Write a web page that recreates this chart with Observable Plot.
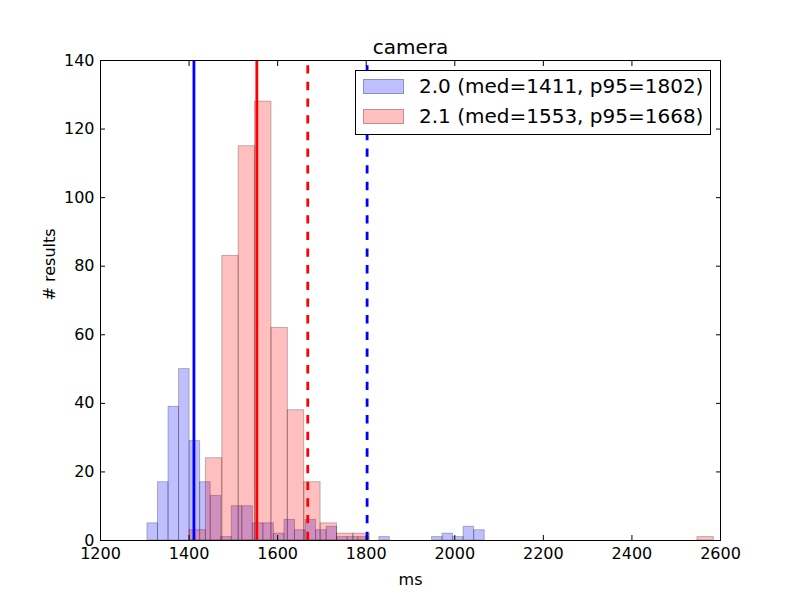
<!DOCTYPE html>
<html><head><meta charset="utf-8">
<script src="https://cdn.jsdelivr.net/npm/d3@7"></script>
<script src="https://cdn.jsdelivr.net/npm/@observablehq/plot@0.6"></script>
<style>
body{margin:0;background:#fff;font-family:"DejaVu Sans",sans-serif}
#wrap{position:relative;width:800px;height:600px}
#legend{position:absolute;left:355px;top:70px;width:356px;height:65px;box-sizing:border-box;border:1px solid #000;background:#fff;font-size:20px;font-family:"DejaVu Sans",sans-serif;color:#000}
.row{position:absolute;left:0;height:30px;display:flex;align-items:center;white-space:nowrap}
.sw{width:41px;height:15px;margin-left:7px;box-sizing:border-box;border:1px solid rgba(0,0,0,0.25)}
.lab{margin-left:15px}
</style></head><body><div id="wrap"></div>
<script>
const title = "camera";
const xLabel = "ms";
const yLabel = "# results";
const xTicks = [1200, 1400, 1600, 1800, 2000, 2200, 2400, 2600];
const yTicks = [0, 20, 40, 60, 80, 100, 120, 140];

const versions = ["2.0", "2.1"];
const colors = ["blue", "red"];
const medians = [1411, 1553];
const p95s = [1802, 1668];

// histogram bins: first edge, bin width, counts
const blueStart = 1306, blueBinWidth = 23.8;
const blueCounts = [5,17,39,50,29,17,13,1,10,10,5,5,2,6,3,6,3,4,1,1,1,0,1,0,0,0,0,1,2,1,4,3];
const redStart = 1401, redBinWidth = 37.0;
const redCounts = [3,24,83,115,128,62,38,17,5,2,2,0,0,0,0,0,0,0,0,0,0,0,0,0,0,0,0,0,0,0,0,1];

function bins(start, w, counts) {
  return counts.map((c, i) => ({x1: start + i * w, x2: start + (i + 1) * w, count: c})).filter(d => d.count > 0);
}
const series = [bins(blueStart, blueBinWidth, blueCounts), bins(redStart, redBinWidth, redCounts)];

const marks = [];
series.forEach((b, k) => {
  marks.push(Plot.rectY(b, {x1: "x1", x2: "x2", y: "count", fill: colors[k], fillOpacity: 0.25,
    stroke: "black", strokeOpacity: 0.25, strokeWidth: 1}));
});
versions.forEach((v, k) => {
  marks.push(Plot.ruleX([medians[k]], {x: d => d, y1: 0, y2: 140, stroke: colors[k], strokeWidth: 2.8}));
  marks.push(Plot.ruleX([p95s[k]], {x: d => d, y1: 0, y2: 140, stroke: colors[k], strokeWidth: 2.8, strokeDasharray: "8.33,8.33"}));
});
marks.push(
  Plot.frame({stroke: "black", strokeWidth: 1}),
  Plot.axisX({ticks: xTicks, tickSize: -5, tickPadding: 12, tickFormat: d3.format("d"), label: null}),
  Plot.axisX({anchor: "top", ticks: xTicks, tickSize: -5, tickFormat: () => "", label: null}),
  Plot.axisY({ticks: yTicks, tickSize: -5, tickPadding: 11, tickFormat: d3.format("d"), label: null}),
  Plot.axisY({anchor: "right", ticks: yTicks, tickSize: -5, tickFormat: () => "", label: null}),
  Plot.text([title], {text: d => d, frameAnchor: "top", dy: -7, lineAnchor: "bottom", fontSize: 20}),
  Plot.text([xLabel], {text: d => d, frameAnchor: "bottom", dy: 44, lineAnchor: "bottom", fontSize: 16}),
  Plot.text([yLabel], {text: d => d, frameAnchor: "left", dx: -46, rotate: -90, lineAnchor: "bottom", fontSize: 16})
);

const chart = Plot.plot({
  width: 800, height: 600,
  marginLeft: 100, marginRight: 80, marginTop: 60, marginBottom: 60,
  style: {fontFamily: "DejaVu Sans, sans-serif", fontSize: "16px", background: "white", color: "black", overflow: "visible"},
  x: {domain: [1200, 2600]},
  y: {domain: [0, 140]},
  marks
});
const wrap = document.getElementById("wrap");
wrap.appendChild(chart);

const legend = document.createElement("div");
legend.id = "legend";
versions.forEach((v, k) => {
  const row = document.createElement("div");
  row.className = "row";
  row.style.top = (k * 30) + "px";
  const sw = document.createElement("div");
  sw.className = "sw";
  sw.style.background = k === 0 ? "rgba(0,0,255,0.25)" : "rgba(255,0,0,0.25)";
  const lab = document.createElement("span");
  lab.className = "lab";
  lab.textContent = `${v} (med=${medians[k]}, p95=${p95s[k]})`;
  row.appendChild(sw); row.appendChild(lab);
  legend.appendChild(row);
});
wrap.appendChild(legend);
</script></body></html>
